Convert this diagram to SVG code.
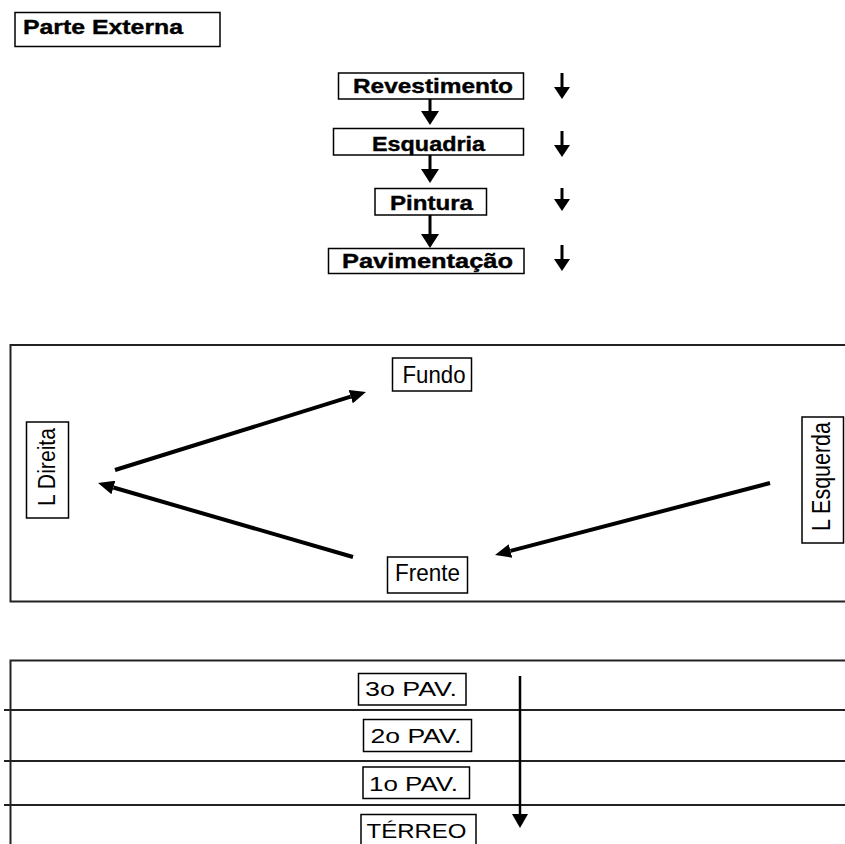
<svg xmlns="http://www.w3.org/2000/svg" width="845" height="844" viewBox="0 0 845 844">
<defs>
<style>
.box{fill:#fff;stroke:#000;stroke-width:1.5}
.b{font-family:"Liberation Sans",Arial,sans-serif;font-weight:bold;font-size:21px;fill:#000;stroke:#000;stroke-width:0.4}
.r{font-family:"Liberation Sans",Arial,sans-serif;font-size:23px;fill:#000}
.p{font-family:"Liberation Sans",Arial,sans-serif;font-size:21px;fill:#000}
.panel{fill:none;stroke:#222;stroke-width:2}
.thick{fill:none;stroke:#000;stroke-width:4}
.mid{fill:none;stroke:#000;stroke-width:3}
.thin{fill:none;stroke:#000;stroke-width:2.5}
</style>
<marker id="ahL" markerUnits="userSpaceOnUse" markerWidth="16" markerHeight="14" refX="0" refY="7" orient="auto"><path d="M0,0 L16,7 L0,14 z" fill="#000"/></marker>
<marker id="ahS" markerUnits="userSpaceOnUse" markerWidth="12" markerHeight="16" refX="0" refY="8" orient="auto"><path d="M0,0 L12,8 L0,16 z" fill="#000"/></marker>
<marker id="ahC" markerUnits="userSpaceOnUse" markerWidth="14" markerHeight="18" refX="0" refY="9" orient="auto"><path d="M0,0 L14,9 L0,18 z" fill="#000"/></marker>
<marker id="ahB" markerUnits="userSpaceOnUse" markerWidth="14" markerHeight="16" refX="0" refY="8" orient="auto"><path d="M0,0 L14,8 L0,16 z" fill="#000"/></marker>
</defs>
<rect width="845" height="844" fill="#fff"/>

<g id="parte-externa"><rect class="box" x="15" y="12.5" width="205" height="34"/><text class="b" x="23" y="34" textLength="160" lengthAdjust="spacingAndGlyphs">Parte Externa</text></g>

<g id="revestimento"><rect class="box" x="338.5" y="73" width="185" height="26"/><text class="b" x="353" y="93" textLength="160" lengthAdjust="spacingAndGlyphs">Revestimento</text></g>
<g id="esquadria"><rect class="box" x="333.5" y="128.5" width="190" height="26.5"/><text class="b" x="372" y="150.5" textLength="113" lengthAdjust="spacingAndGlyphs">Esquadria</text></g>
<g id="pintura"><rect class="box" x="375" y="188.5" width="111.5" height="26.5"/><text class="b" x="390" y="209.5" textLength="83" lengthAdjust="spacingAndGlyphs">Pintura</text></g>
<g id="pavimentacao"><rect class="box" x="328.5" y="248.5" width="195.5" height="25"/><text class="b" x="342" y="267.5" textLength="171" lengthAdjust="spacingAndGlyphs">Pavimentação</text></g>

<g id="panel-lados"><path class="panel" d="M845,345 H10.5 V601.5 H845"/></g>
<g id="fundo"><rect class="box" x="392.5" y="358" width="79" height="33"/><text class="r" x="402.5" y="382.5" textLength="63" lengthAdjust="spacingAndGlyphs">Fundo</text></g>
<g id="frente"><rect class="box" x="387.5" y="557" width="80" height="36"/><text class="r" x="395" y="580.5" textLength="65" lengthAdjust="spacingAndGlyphs">Frente</text></g>
<g id="l-direita"><rect class="box" x="26.5" y="422" width="42" height="96"/><text class="r" transform="translate(55,506) scale(1.05,1) rotate(-90)" x="0" y="0" textLength="78" lengthAdjust="spacingAndGlyphs">L Direita</text></g>
<g id="l-esquerda"><rect class="box" x="802" y="417" width="41.5" height="126"/><text class="r" transform="translate(830,531) scale(1.15,1) rotate(-90)" x="0" y="0" textLength="109" lengthAdjust="spacingAndGlyphs">L Esquerda</text></g>

<g id="panel-pavimentos">
<path class="panel" d="M845,660.5 H10.5 V844"/>
<path class="panel" d="M4,710 H845 M4,761 H845 M4,805 H845"/>
</g>
<g id="pav3"><rect class="box" x="358.5" y="673.5" width="107.5" height="31.5"/><text class="p" x="365" y="696" textLength="92" lengthAdjust="spacingAndGlyphs">3o PAV.</text></g>
<g id="pav2"><rect class="box" x="363.5" y="719.5" width="108" height="32"/><text class="p" x="370.5" y="742.5" textLength="91" lengthAdjust="spacingAndGlyphs">2o PAV.</text></g>
<g id="pav1"><rect class="box" x="363" y="767" width="106.5" height="31.5"/><text class="p" x="369" y="790.5" textLength="89" lengthAdjust="spacingAndGlyphs">1o PAV.</text></g>
<g id="terreo"><rect class="box" x="361" y="814.5" width="115" height="34"/><text class="p" x="366.5" y="837.5" textLength="100" lengthAdjust="spacingAndGlyphs">TÉRREO</text></g>

<g id="connectors">
<path class="mid" d="M430,99 V111" marker-end="url(#ahC)"/>
<path class="mid" d="M430,155 V169" marker-end="url(#ahC)"/>
<path class="mid" d="M430,215 V234" marker-end="url(#ahC)"/>
<path class="mid" d="M562,73 V87" marker-end="url(#ahS)"/>
<path class="mid" d="M562,131 V145" marker-end="url(#ahS)"/>
<path class="mid" d="M562,188 V199" marker-end="url(#ahS)"/>
<path class="mid" d="M562,245 V259" marker-end="url(#ahS)"/>
<path class="thick" d="M115,470 L350.7,396.7" marker-end="url(#ahL)"/>
<path class="thick" d="M353,557 L113.4,487.5" marker-end="url(#ahL)"/>
<path class="thick" d="M770,483 L510.5,550.9" marker-end="url(#ahL)"/>
<path class="thin" d="M520,676 V814" marker-end="url(#ahB)"/>
</g>
</svg>
